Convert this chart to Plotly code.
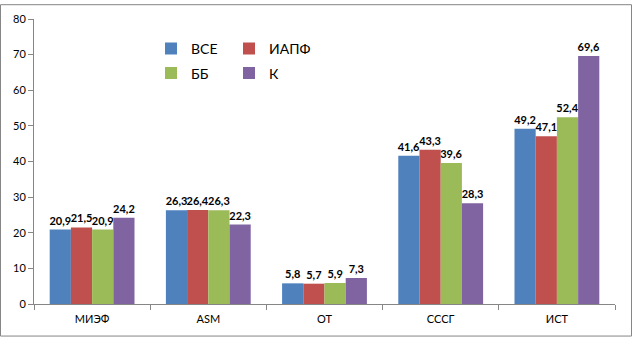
import plotly.graph_objects as go

categories = ["МИЭФ", "ASM", "ОТ", "СССГ", "ИСТ"]
series_names = ["ВСЕ", "ИАПФ", "ББ", "К"]
vals_vse = [20.9, 26.3, 5.8, 41.6, 49.2]
vals_iapf = [21.5, 26.4, 5.7, 43.3, 47.1]
vals_bb = [20.9, 26.3, 5.9, 39.6, 52.4]
vals_k = [24.2, 22.3, 7.3, 28.3, 69.6]
colors = ["#4F81BD", "#C0504D", "#9BBB59", "#8064A2"]
legend_ids = ["legend", "legend2", "legend3", "legend4"]

W, H = 633, 338
ml, mr, mt, mb = 34, 18, 15, 34
pw, ph = W - ml - mr, H - mt - mb

FONT = "Lato, 'Open Sans', sans-serif"

fig = go.Figure()
for name, vals, col, lg in zip(series_names, [vals_vse, vals_iapf, vals_bb, vals_k], colors, legend_ids):
    fig.add_trace(go.Bar(
        x=categories, y=vals, name=name, marker_color=col, marker_line_width=0,
        text=[f"{v:.1f}".replace(".", ",") for v in vals],
        textposition="outside", constraintext="none", cliponaxis=False,
        textfont=dict(size=11, color="#000000", family=FONT, weight="bold"),
        legend=lg, showlegend=True,
    ))

legend_common = dict(
    xanchor="left", yanchor="top",
    font=dict(size=14, color="#000000", family=FONT),
    bgcolor="rgba(0,0,0,0)",
)

# 2x2 legend grid: one legend box per entry
col_x = [151, 229]
row_y = [29, 54]
legend_pos = {
    "legend": (col_x[0], row_y[0]),
    "legend2": (col_x[1], row_y[0]),
    "legend3": (col_x[0], row_y[1]),
    "legend4": (col_x[1], row_y[1]),
}
legend_layouts = {
    key: dict(x=(px - ml) / pw, y=(H - mb - py) / ph, **legend_common)
    for key, (px, py) in legend_pos.items()
}

fig.update_layout(
    width=W, height=H,
    margin=dict(l=ml, r=mr, t=mt, b=mb),
    paper_bgcolor="white", plot_bgcolor="white",
    showlegend=True,
    barmode="group", bargap=0.27, bargroupgap=0,
    font=dict(family=FONT, size=11, color="#000000"),
    xaxis=dict(
        showline=True, linecolor="#868686", linewidth=1,
        ticks="outside", tickson="boundaries", ticklen=5, tickcolor="#868686",
        tickfont=dict(size=11, family=FONT), showgrid=False,
        ticklabelstandoff=5,
    ),
    yaxis=dict(
        range=[0, 80], dtick=10, showline=True, linecolor="#868686", linewidth=1,
        ticks="outside", ticklen=5, tickcolor="#868686",
        tickfont=dict(size=11, family=FONT), showgrid=False, zeroline=False,
    ),
    **legend_layouts,
)

# outer frame of the chart, in paper units spanning the full canvas
fig.add_shape(
    type="rect", xref="paper", yref="paper",
    x0=(0.5 - ml) / pw, x1=(W - 1.5 - ml) / pw,
    y0=-(mb - 1.5) / ph, y1=(ph + mt - 0.5) / ph,
    line=dict(color="#868686", width=1), fillcolor="rgba(0,0,0,0)", layer="above",
)

fig.write_html("out.html")
